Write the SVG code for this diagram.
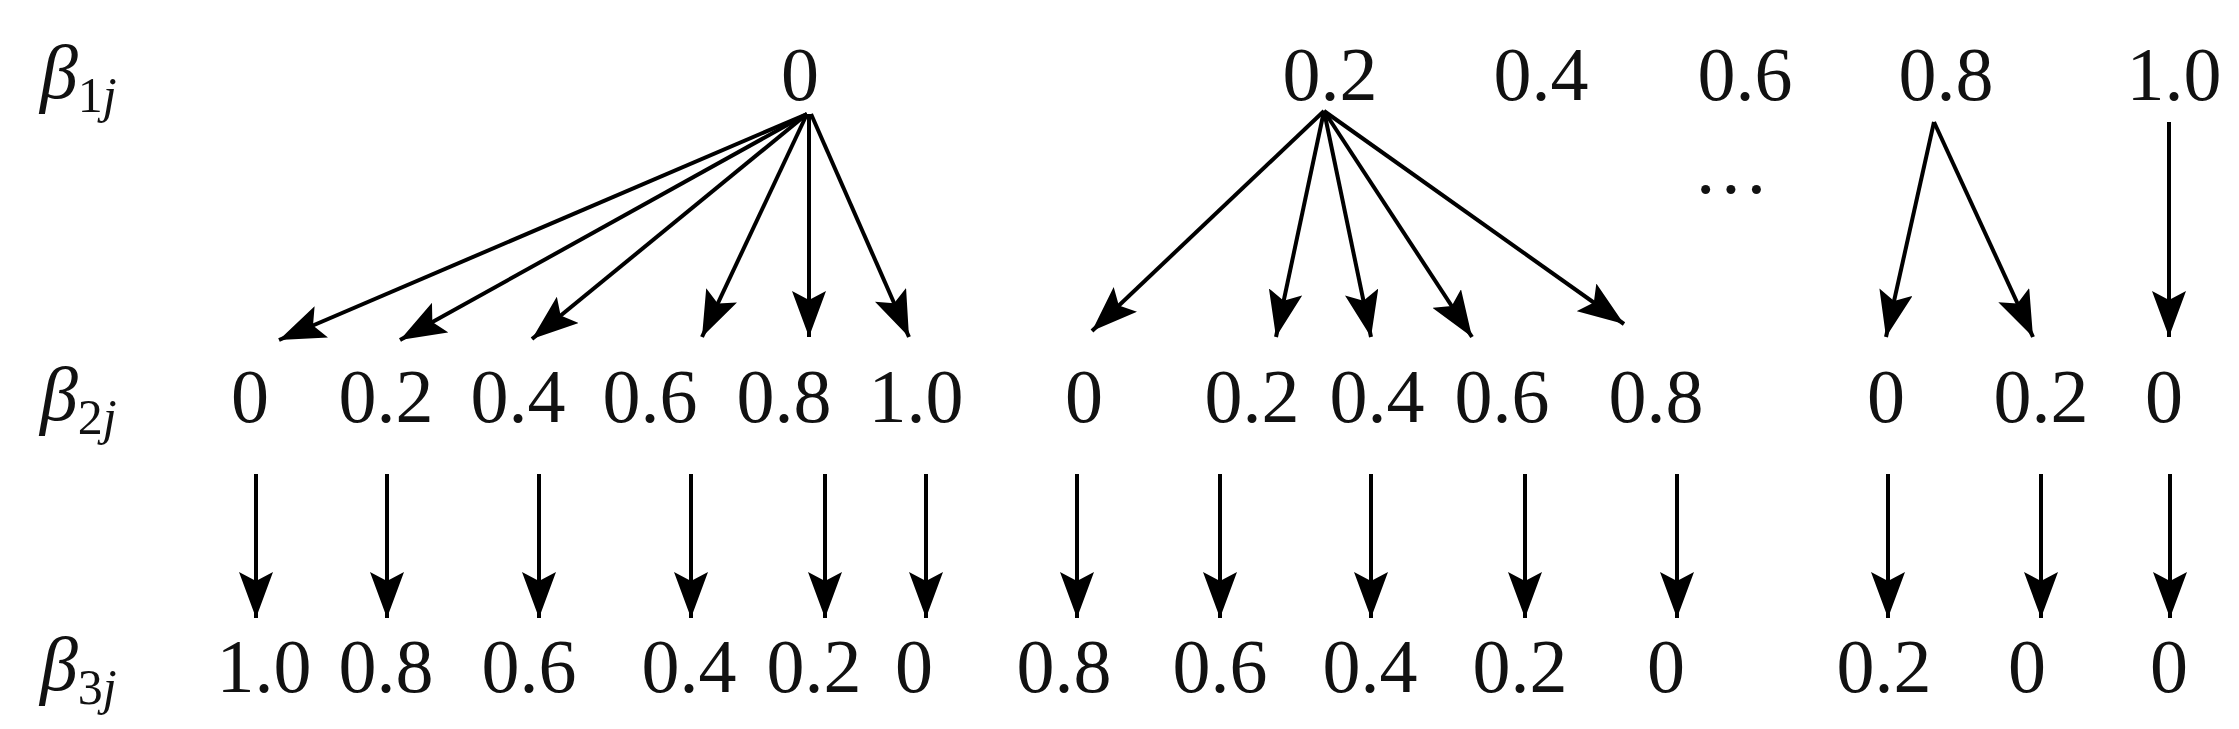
<svg xmlns="http://www.w3.org/2000/svg" width="2239" height="729" viewBox="0 0 2239 729">
<style>
text{font-family:'Liberation Serif','DejaVu Serif',serif;font-size:76px;fill:#111;text-anchor:middle}
.lab{text-anchor:start;font-style:italic}
.sub{font-size:50px}
.c line{stroke:#000;stroke-width:4;marker-end:url(#ah)}
</style>
<defs>
<marker id="ah" markerUnits="userSpaceOnUse" markerWidth="48" markerHeight="34" viewBox="0 0 48 34" refX="46" refY="17" orient="auto">
<path d="M0,0 L46,17 L0,34 L9,17 Z" fill="#000"/>
</marker>
</defs>
<g id="labels">
<text class="lab" x="40" y="98" font-family="Liberation Serif">β<tspan class="sub" font-style="normal" dy="14">1</tspan><tspan class="sub">j</tspan></text>
<text class="lab" x="40" y="420" font-family="Liberation Serif">β<tspan class="sub" font-style="normal" dy="14">2</tspan><tspan class="sub">j</tspan></text>
<text class="lab" x="40" y="690" font-family="Liberation Serif">β<tspan class="sub" font-style="normal" dy="14">3</tspan><tspan class="sub">j</tspan></text>
</g>
<g id="row1" font-family="Liberation Serif">
<text x="800" y="100">0</text><text x="1330" y="100">0.2</text><text x="1541" y="100">0.4</text><text x="1745" y="100">0.6</text><text x="1946" y="100">0.8</text><text x="2174" y="100">1.0</text>
<text x="1731" y="215">···</text>
</g>
<g id="row2" font-family="Liberation Serif">
<text x="250" y="422">0</text><text x="386" y="422">0.2</text><text x="518" y="422">0.4</text><text x="650" y="422">0.6</text><text x="784" y="422">0.8</text><text x="916" y="422">1.0</text>
<text x="1084" y="422">0</text><text x="1252" y="422">0.2</text><text x="1377" y="422">0.4</text><text x="1502" y="422">0.6</text><text x="1656" y="422">0.8</text>
<text x="1886" y="422">0</text><text x="2041" y="422">0.2</text><text x="2164" y="422">0</text>
</g>
<g id="row3" font-family="Liberation Serif">
<text x="264" y="692">1.0</text><text x="386" y="692">0.8</text><text x="529" y="692">0.6</text><text x="689" y="692">0.4</text><text x="814" y="692">0.2</text><text x="914" y="692">0</text>
<text x="1064" y="692">0.8</text><text x="1220" y="692">0.6</text><text x="1370" y="692">0.4</text><text x="1520" y="692">0.2</text><text x="1666" y="692">0</text>
<text x="1884" y="692">0.2</text><text x="2027" y="692">0</text><text x="2169" y="692">0</text>
</g>
<g id="connectors" class="c">
<line x1="807" y1="114" x2="279" y2="340"/><line x1="807" y1="114" x2="400" y2="340"/><line x1="807" y1="114" x2="532" y2="339"/><line x1="807" y1="114" x2="702" y2="337"/><line x1="809" y1="114" x2="809" y2="337"/><line x1="811" y1="114" x2="909" y2="337"/>
<line x1="1324" y1="111" x2="1092" y2="331"/><line x1="1324" y1="111" x2="1276" y2="337"/><line x1="1324" y1="111" x2="1371" y2="337"/><line x1="1324" y1="111" x2="1472" y2="337"/><line x1="1324" y1="111" x2="1624" y2="324"/>
<line x1="1934" y1="122" x2="1886" y2="337"/><line x1="1934" y1="122" x2="2033" y2="337"/><line x1="2169" y1="122" x2="2169" y2="337"/>
<line x1="256" y1="474" x2="256" y2="618"/><line x1="387" y1="474" x2="387" y2="618"/><line x1="539" y1="474" x2="539" y2="618"/><line x1="691" y1="474" x2="691" y2="618"/><line x1="825" y1="474" x2="825" y2="618"/><line x1="926" y1="474" x2="926" y2="618"/><line x1="1077" y1="474" x2="1077" y2="618"/>
<line x1="1220" y1="474" x2="1220" y2="618"/><line x1="1371" y1="474" x2="1371" y2="618"/><line x1="1525" y1="474" x2="1525" y2="618"/><line x1="1677" y1="474" x2="1677" y2="618"/><line x1="1888" y1="474" x2="1888" y2="618"/><line x1="2041" y1="474" x2="2041" y2="618"/><line x1="2170" y1="474" x2="2170" y2="618"/>
</g>
</svg>
